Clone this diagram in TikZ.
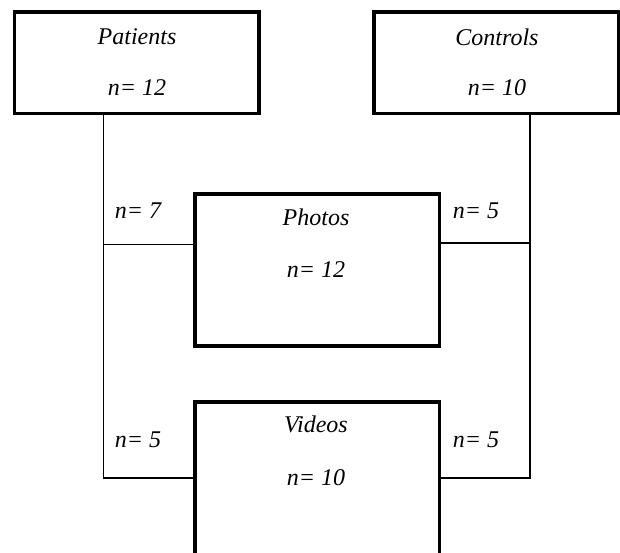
\documentclass[tikz,border=0pt]{standalone}
\usepackage{fontspec}
\setmainfont{Liberation Serif}
\begin{document}
\begin{tikzpicture}[x=1pt,y=-1pt,
  box/.style={draw, line width=3.5pt, rectangle, inner sep=0pt, minimum width=244.5pt},
  lbl/.style={font=\fontsize{24}{28}\selectfont\itshape, inner sep=0pt, anchor=center},
  conn/.style={line width=1.3pt}]
\useasboundingbox (0,0) rectangle (620,553);
\clip (0,0) rectangle (620,553);
% boxes
\node[box, minimum height=101.5pt] (patients) at (136.5,63) {};
\node[box, minimum height=101.5pt] (controls) at (496,63) {};
\node[box, minimum height=151.5pt] (photos) at (317,270) {};
\node[box, minimum height=200pt] (videos) at (317,502) {};
% texts
\node[lbl] (tpat) at (137,37) {Patients};
\node[lbl] (npat) at (137,88) {n= 12};
\node[lbl] (tcon) at (497,37) {Controls};
\node[lbl] (ncon) at (497,88) {n= 10};
\node[lbl] (tpho) at (316,217) {Photos};
\node[lbl] (npho) at (316,270) {n= 12};
\node[lbl] (tvid) at (316,424) {Videos};
\node[lbl] (nvid) at (316,478) {n= 10};
% side labels
\node[lbl] (l7) at (138,211) {n= 7};
\node[lbl] (r5a) at (476,211) {n= 5};
\node[lbl] (l5) at (138,440) {n= 5};
\node[lbl] (r5b) at (476,440) {n= 5};
% connectors
\coordinate (LB) at (103.5,478);
\coordinate (LP) at (103.5,244.5);
\coordinate (RB) at (530,478);
\coordinate (RP) at (530,243);
\draw[conn] (patients.south -| LB) -- (LB) -- (LB -| videos.west);
\draw[conn] (LP) -- (LP -| photos.west);
\draw[conn] (controls.south -| RB) -- (RB) -- (RB -| videos.east);
\draw[conn] (RP) -- (RP -| photos.east);
\end{tikzpicture}
\end{document}
